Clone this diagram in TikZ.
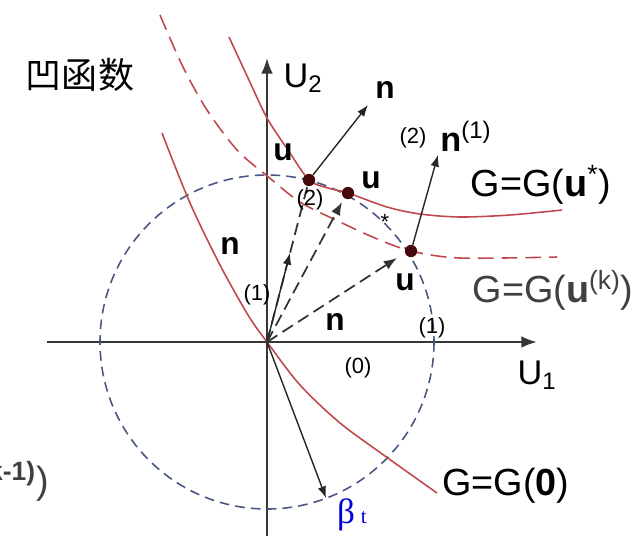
\documentclass[tikz,border=0pt]{standalone}
\usepackage{fontspec}
\setmainfont{Liberation Sans}
\newfontfamily\cjkfont{Noto Sans CJK SC}
\newfontfamily\grkfont{Liberation Serif}
\usepackage{xcolor}
\usetikzlibrary{arrows.meta}
\definecolor{curvered}{RGB}{192,72,78}
\definecolor{circblue}{RGB}{72,86,130}
\definecolor{dotred}{RGB}{70,10,12}
\definecolor{axgray}{RGB}{55,55,55}

\begin{document}
\begin{tikzpicture}[x=0.02cm,y=-0.02cm,>=Latex,every node/.style={inner sep=0pt},
   axis/.style={draw=axgray,line width=1.3pt},
   gcurve/.style={draw=curvered,line width=0.9pt},
   gdash/.style={gcurve,dash pattern=on 9pt off 4.5pt},
   circ/.style={draw=circblue,line width=0.9pt,dash pattern=on 5.5pt off 3.5pt},
   vec/.style={draw=black!85,line width=0.8pt},
   dline/.style={draw=black!80,line width=1pt,dash pattern=on 7pt off 3.5pt},
   dot/.style={circle,fill=dotred,minimum size=7pt},
   big/.style={font=\fontsize{21.5}{24}\selectfont},
   axlab/.style={font=\fontsize{19.5}{22}\selectfont},
   bvec/.style={font=\bfseries\fontsize{18}{20}\selectfont},
   small/.style={font=\fontsize{12.5}{14}\selectfont}]
\useasboundingbox (0,0) rectangle (642,535);
\coordinate (O) at (267,342);
% axes
\coordinate (xl) at (47,342);
\coordinate (xr) at (537,342);
\coordinate (yb) at (267,540);
\coordinate (yt) at (267,58);
\draw[axis,->] (xl) -- (xr);
\draw[axis,->] (yb) -- (yt);
% circle
\draw[circ] (O) circle[radius=167];
% level curves
\draw[gcurve] plot[smooth] coordinates {(229,37) (248,78) (267,118) (288,150) (309,180) (328,188) (348,193) (387,207) (420,214) (460,217) (510,215) (562,210)};
\draw[gdash] plot[smooth] coordinates {(160,15) (183,67) (207,110) (237,150) (266,175) (300,202) (340,222) (375,238) (411,251) (460,258) (557,257)};
\draw[gcurve] plot[smooth] coordinates {(162,133) (190,203) (220,265) (248,315) (267,342) (300,385) (340,423) (385,456) (437,493)};
% points
\node[dot] (u2) at (309,180) {};
\node[dot] (ustar) at (348,193) {};
\node[dot] (u1) at (411,251) {};
% vectors
\coordinate (a0) at (290,253);
\coordinate (a2) at (342,202);
\coordinate (a1) at (397,258);
\coordinate (n2tip) at (368,105);
\coordinate (n1tip) at (438,155);
\coordinate (btip) at (326,498);
\draw[dline] (O) -- (u2);
\draw[vec,->] (O) -- (a0);
\draw[dline,->] (O) -- (a2);
\draw[dline,->] (O) -- (a1);
\draw[vec,->] (u2) -- (n2tip);
\draw[vec,->] (u1) -- (n1tip);
\draw[vec,->] (O) -- (btip);
% labels
\node[big,font=\cjkfont\fontsize{20.5}{24}\selectfont] (title) at (80,75) {凹函数};
\node[axlab] (U2lab) at (303,78) {U\textsubscript{2}};
\node[axlab] (U1lab) at (537,375) {U\textsubscript{1}};
\node[bvec] (nA) at (385,90) {n};
\node[small] (iA) at (413,138) {(2)};
\node[axlab] (nB) at (466,136) {\textbf{n}\textsuperscript{(1)}};
\node[bvec] (uA) at (283,152) {u};
\node[bvec] (uB) at (371,180) {u};
\node[small] (iB) at (310,200) {(2)};
\node[small] (star) at (385,222) {*};
\node[big] (Gstar) at (541,185) {G=G(\textbf{u}\textsuperscript{*})};
\node[bvec] (nC) at (230,246) {n};
\node[bvec] (uC) at (405,282) {u};
\node[big,text=black!75] (Gk) at (553,290) {G=G(\textbf{u}\textsuperscript{(k)})};
\node[small] (iC) at (257,295) {(1)};
\node[bvec] (nD) at (335,322) {n};
\node[small] (iD) at (432,328) {(1)};
\node[small] (iE) at (358,368) {(0)};
\node[big] (G0) at (506,486) {G=G(\textbf{0})};
\node[big,text=black!75,anchor=east] (frag) at (49,481) {\textsuperscript{\textbf{(k-1)}})};
\node[text=blue!85!black,font=\grkfont\fontsize{20}{22}\selectfont] (beta) at (352,515) {β\,{\fontsize{12}{14}\selectfont t}};
\end{tikzpicture}
\end{document}
